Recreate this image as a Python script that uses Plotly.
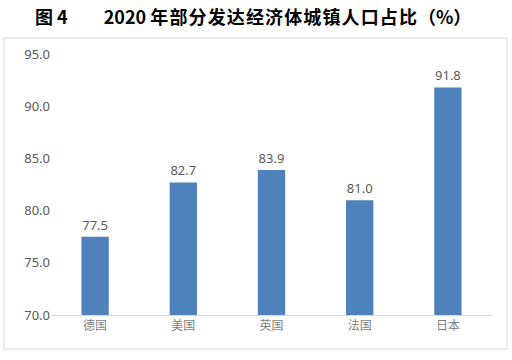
import plotly.graph_objects as go

countries = ["德国", "美国", "英国", "法国", "日本"]
urban_share = [77.5, 82.7, 83.9, 81.0, 91.8]
y_ticks = [70, 75, 80, 85, 90, 95]
y_tick_labels = ["70.0", "75.0", "80.0", "85.0", "90.0", "95.0"]

L, R, T, B = 51, 20, 54, 45
W, H = 512, 360
pw, ph = W - L - R, H - T - B

def px_x(x):
    return (x - L) / pw

def px_y(y):
    return (H - B - y) / ph

sp = "\u200A"
title_main = "2020 " + sp.join("年部分发达经济体城镇人口占比") + sp + "（%）"
title_text = "<b>图 4" + "\u2003\u2002\u2002" + title_main + "</b>"

fig = go.Figure()
fig.add_trace(go.Bar(
    x=countries, y=urban_share,
    marker=dict(color="#4F81BD", line=dict(width=0)),
    text=[f"{v:.1f}" for v in urban_share],
    textposition="outside",
    textfont=dict(size=13, color="#595959", family="Noto Sans, Arial"),
    cliponaxis=False,
))

fig.update_layout(
    width=W, height=H,
    margin=dict(l=L, r=R, t=T, b=B),
    paper_bgcolor="white", plot_bgcolor="white",
    bargap=0.69,
    showlegend=False,
    title=dict(
        text=title_text,
        x=35 / W, xanchor="left", y=1 - 18 / H, yanchor="middle",
        font=dict(size=18, color="#000000", family="Noto Sans CJK SC"),
    ),
    xaxis=dict(
        showline=True, linecolor="#D9D9D9", linewidth=1,
        ticks="", showgrid=False,
        tickfont=dict(size=12, color="#7F7F7F", family="Noto Sans CJK SC"),
    ),
    yaxis=dict(
        range=[70, 95], tickvals=y_ticks, ticktext=y_tick_labels,
        showgrid=False, showline=False, zeroline=False, ticks="",
        tickfont=dict(size=13, color="#595959", family="Noto Sans, Arial"),
    ),
    shapes=[dict(
        type="rect", xref="paper", yref="paper",
        x0=px_x(4), x1=px_x(507), y0=px_y(349), y1=px_y(38),
        line=dict(color="#D9D9D9", width=1), fillcolor="rgba(0,0,0,0)",
        layer="below",
    )],
)

fig.write_html(
    "out.html",
    config={"displayModeBar": False},
    post_script="document.body.style.margin='0';document.body.style.padding='0';",
)
